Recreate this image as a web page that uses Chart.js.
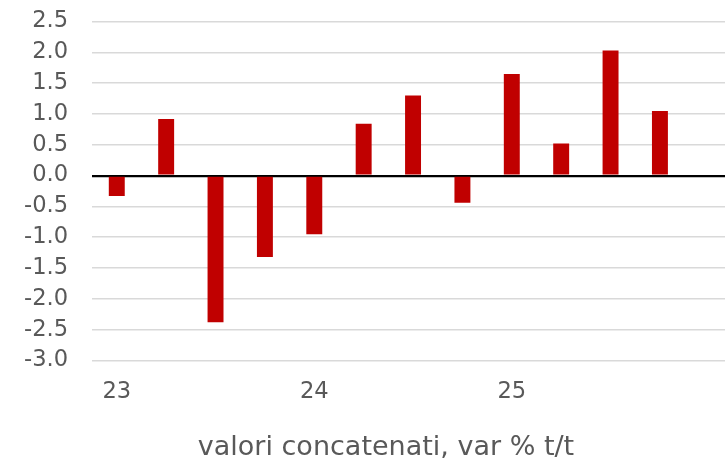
<!DOCTYPE html>
<html>
<head>
<meta charset="utf-8">
<script src="https://cdn.jsdelivr.net/npm/chart.js@4"></script>
<style>
  html, body { margin: 0; padding: 0; background: #fff; overflow: hidden; }
  #wrap { width: 725px; height: 464px; overflow: hidden; }
  #box { width: 772px; height: 480px; margin-top: -16px; }
</style>
</head>
<body>
<div id="wrap"><div id="box"><canvas id="gdp"></canvas></div></div>
<script>
// quarters 2023 Q1 .. 2025 Q4 (plus one empty slot, cut off on the right)
const quarters = ["23", "", "", "", "24", "", "", "", "25", "", "", "", ""];
const growth = [-0.33, 0.92, -2.38, -1.32, -0.95, 0.84, 1.30, -0.44, 1.65, 0.52, 2.03, 1.05];
const yTicks = [2.5, 2.0, 1.5, 1.0, 0.5, 0.0, -0.5, -1.0, -1.5, -2.0, -2.5, -3.0];
const titleText = "valori concatenati, var % t/t";

const textColor = "#595959";
const fontFamily = "'DejaVu Sans', Verdana, sans-serif";

const ctx = document.querySelector("#gdp");
new Chart(ctx, {
  type: "bar",
  data: {
    labels: quarters,
    datasets: [{
      data: growth,
      backgroundColor: "#C00000",
      borderWidth: 0,
      barPercentage: 0.323,
      categoryPercentage: 1
    }]
  },
  options: {
    responsive: true,
    maintainAspectRatio: false,
    animation: false,
    layout: { padding: { top: 5, right: 0, bottom: 0, left: 0 } },
    plugins: {
      legend: { display: false },
      tooltip: { enabled: false },
      title: {
        display: true,
        position: "bottom",
        text: titleText,
        color: textColor,
        font: { family: fontFamily, size: 27, weight: "normal" },
        padding: { top: 16, bottom: 0 }
      }
    },
    scales: {
      x: {
        grid: { display: false },
        border: { display: false },
        ticks: {
          color: textColor,
          font: { family: fontFamily, size: 22.6 },
          autoSkip: false,
          maxRotation: 0,
          padding: 10
        }
      },
      y: {
        min: -3,
        max: 2.5,
        afterBuildTicks: (axis) => {
          axis.ticks = yTicks.map((v) => ({ value: v }));
        },
        border: { display: false },
        grid: {
          drawTicks: false,
          color: (c) => (c.tick && c.tick.value === 0 ? "#000000" : "#D9D9D9"),
          lineWidth: (c) => (c.tick && c.tick.value === 0 ? 2.2 : 1.6)
        },
        ticks: {
          color: textColor,
          font: { family: fontFamily, size: 22.6 },
          autoSkip: false,
          padding: 24,
          callback: (v) => Number(v).toFixed(1)
        }
      },
      // empty right-hand axis: keeps room past the plot so the title sits where it does in the original
      spacer: {
        type: "linear",
        position: "right",
        grid: { display: false },
        border: { display: false },
        ticks: { display: false },
        afterFit: (s) => { s.width = 38; }
      }
    }
  }
});
</script>
</body>
</html>
